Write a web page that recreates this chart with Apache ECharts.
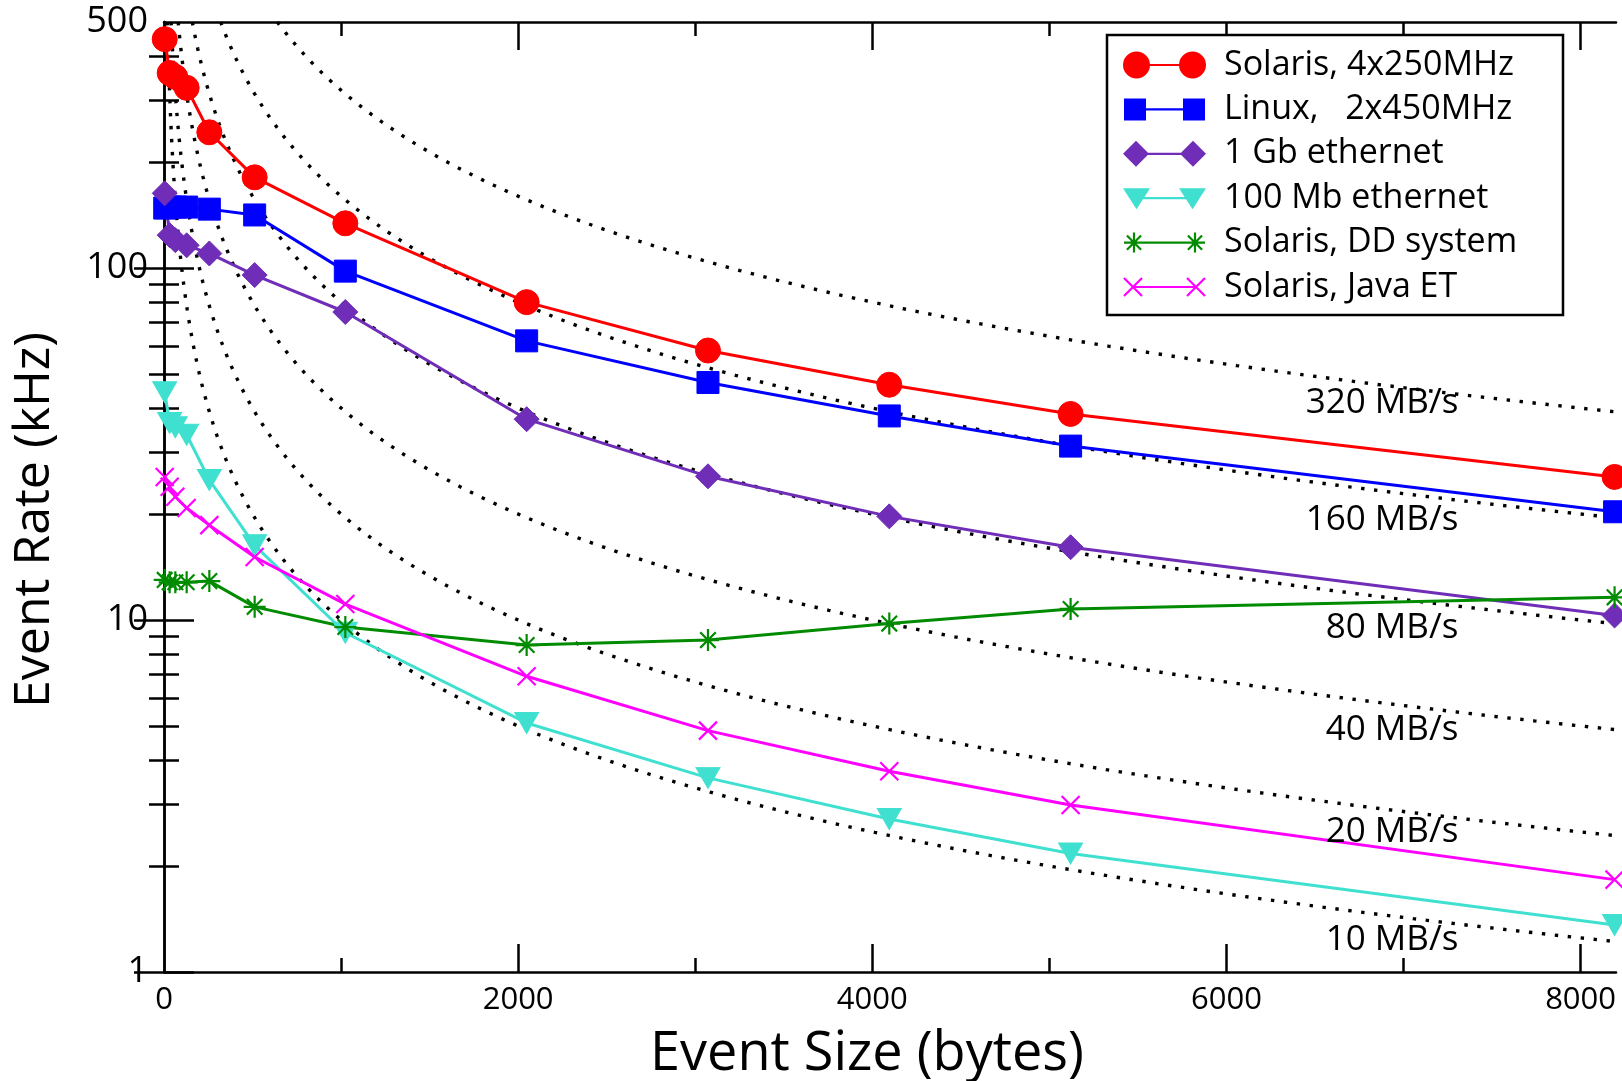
<!DOCTYPE html>
<html>
<head>
<meta charset="utf-8">
<style>
html, body { margin: 0; padding: 0; background: #fff; }
#chart { width: 1622px; height: 1081px; }
</style>
<script src="https://cdn.jsdelivr.net/npm/echarts@6/dist/echarts.min.js"></script>
</head>
<body>
<div id="chart"></div>
<script>
// event sizes (bytes)
const sizes = [4, 32, 64, 128, 256, 512, 1024, 2048, 3072, 4096, 5120, 8192]
// event rates (kHz)
const solaris4 = [447, 358, 349, 325, 243, 181, 134, 80, 58.3, 46.6, 38.5, 25.5]
const linux2 = [148, 149, 149, 149, 147, 141.5, 98, 62.1, 47.3, 38.0, 31.2, 20.3]
const gbEthernet = [163, 124, 120, 116, 110, 95.5, 75, 37.2, 25.6, 19.7, 16.1, 10.3]
const mbEthernet = [44.4, 36.3, 35.3, 33.6, 25, 16.3, 9.2, 5.1, 3.56, 2.72, 2.17, 1.36]
const ddSystem = [13.0, 12.8, 12.8, 12.8, 12.9, 10.9, 9.55, 8.49, 8.77, 9.77, 10.75, 11.6]
const javaET = [25.5, 23.9, 22.4, 20.8, 18.6, 15.1, 11.1, 6.92, 4.85, 3.72, 2.98, 1.83]
// constant bandwidth guides (MB/s)
const bandwidths = [320, 160, 80, 40, 20, 10]
const bandwidthLabels = ['320 MB/s', '160 MB/s', '80 MB/s', '40 MB/s', '20 MB/s', '10 MB/s']
// ticks
const xLabels = [0, 2000, 4000, 6000, 8000]
const xMajorTicks = [2000, 4000, 6000, 8000]
const xMinorTicks = [1000, 3000, 5000, 7000]
const yLabels = [1, 10, 100, 500]
const yMajorTicks = [1, 10, 100]
const yMinorTicks = [2, 3, 4, 5, 6, 7, 8, 9, 20, 30, 40, 50, 60, 70, 80, 90, 200, 300, 400]

const font = 'Open Sans'
const black = '#000'
const X_MAX = 8200

// where the guide labels sit (data coords)
const guideLabelX = 7310
const guideLabelY = [41.4, 19.2, 9.5, 4.87, 2.5, 1.23]

function guideCurve (bw) {
  // rate (kHz) = bandwidth (MB/s) * 1000 / size (bytes), starting where it hits 500 kHz
  const pts = []
  const x0 = bw * 2
  const n = 160
  for (let i = 0; i <= n; i++) {
    const x = x0 * Math.pow(X_MAX / x0, i / n)
    pts.push([x, bw * 1000 / x])
  }
  return pts
}

// legend icon helpers (box 83 x 28), all shapes clockwise so fills never cancel
function circleP (cx, cy, r) {
  return `M${cx - r},${cy} A${r},${r} 0 1 1 ${cx + r},${cy} A${r},${r} 0 1 1 ${cx - r},${cy} Z `
}
function polyP (pts) {
  let a = 0
  for (let i = 0; i < pts.length; i++) {
    const p = pts[i]; const q = pts[(i + 1) % pts.length]
    a += p[0] * q[1] - q[0] * p[1]
  }
  if (a < 0) pts = pts.slice().reverse()
  return 'M' + pts.map(p => p[0].toFixed(2) + ',' + p[1].toFixed(2)).join(' L') + ' Z '
}
function rectP (x1, y1, x2, y2) {
  return polyP([[x1, y1], [x2, y1], [x2, y2], [x1, y2]])
}
function segP (x1, y1, x2, y2, t) {
  const len = Math.hypot(x2 - x1, y2 - y1)
  const nx = -(y2 - y1) / len * t / 2
  const ny = (x2 - x1) / len * t / 2
  return polyP([[x1 + nx, y1 + ny], [x2 + nx, y2 + ny], [x2 - nx, y2 - ny], [x1 - nx, y1 - ny]])
}
function starP (cx, cy, r, t) {
  const d = r * 0.7071
  return segP(cx, cy - r, cx, cy + r, t) + segP(cx - r, cy, cx + r, cy, t) +
    segP(cx - d, cy - d, cx + d, cy + d, t) + segP(cx - d, cy + d, cx + d, cy - d, t)
}
function crossP (cx, cy, r, t) {
  return segP(cx - r, cy - r, cx + r, cy + r, t) + segP(cx - r, cy + r, cx + r, cy - r, t)
}
const bounds = 'M0,0 M83,28'
function lineP (x1, x2) { return rectP(x1, 12.9, x2, 15.1) }

const legendIcons = [
  circleP(13.5, 14, 13.5) + circleP(69.5, 14, 13.5) + lineP(13, 70),
  rectP(1, 3, 23, 25) + rectP(60, 3, 82, 25) + lineP(12, 71),
  polyP([[0, 14], [13, 1], [26, 14], [13, 27]]) + polyP([[57, 14], [70, 1], [83, 14], [70, 27]]) + lineP(13, 70),
  polyP([[0, 4], [27, 4], [13.5, 25]]) + polyP([[56, 4], [83, 4], [69.5, 25]]) + lineP(13, 70),
  starP(11, 14, 10, 2.2) + starP(72, 14, 10, 2.2) + lineP(11, 72),
  crossP(10, 14, 9, 2.2) + crossP(73, 14, 9, 2.2) + lineP(10, 73)
].map(p => 'path://' + p + bounds)

const seriesDefs = [
  { name: 'Solaris, 4x250MHz', data: solaris4, color: '#ff0000', symbol: 'circle', size: 25 },
  { name: 'Linux,   2x450MHz', data: linux2, color: '#0000ff', symbol: 'rect', size: 22 },
  { name: '1 Gb ethernet', data: gbEthernet, color: '#6f2db8', symbol: 'diamond', size: 25 },
  { name: '100 Mb ethernet', data: mbEthernet, color: '#40e0d0', symbol: 'triangle', size: [24, 21], rotate: 180 },
  { name: 'Solaris, DD system', data: ddSystem, color: '#008b00', symbol: 'path://M0,-10L0,10M-10,0L10,0M-7.07,-7.07L7.07,7.07M-7.07,7.07L7.07,-7.07', size: 22, stroke: 2.2 },
  { name: 'Solaris, Java ET', data: javaET, color: '#ff00ff', symbol: 'path://M-10,-10L10,10M-10,10L10,-10', size: 18, stroke: 2.2 }
]

const series = []
bandwidths.forEach(bw => {
  series.push({
    type: 'line',
    data: guideCurve(bw),
    showSymbol: false,
    silent: true,
    clip: true,
    z: 2,
    lineStyle: { color: black, width: 3.4, type: [3.4, 9.6], cap: 'butt' }
  })
})
seriesDefs.forEach(s => {
  series.push({
    name: s.name,
    type: 'line',
    data: sizes.map((x, i) => [x, s.data[i]]),
    symbol: s.symbol,
    symbolSize: s.size,
    symbolRotate: s.rotate || 0,
    showAllSymbol: true,
    clip: false,
    z: 3,
    lineStyle: { color: s.color, width: 3 },
    itemStyle: { color: s.color, borderColor: s.color, borderWidth: s.stroke || 1 }
  })
})
series.push({
  type: 'scatter',
  symbolSize: 0,
  silent: true,
  z: 4,
  itemStyle: { opacity: 1 },
  data: bandwidthLabels.map((t, i) => ({ name: t, value: [guideLabelX, guideLabelY[i]] })),
  label: {
    show: true,
    position: 'left',
    distance: 0,
    formatter: '{b}',
    fontFamily: font,
    fontSize: 35,
    color: black,
    opacity: 1
  }
})

const line = { show: true, lineStyle: { color: black, width: 2.5 } }
function xAxis (position, ticks, len, extra) {
  return Object.assign({
    type: 'value',
    position,
    min: 0,
    max: X_MAX,
    axisLine: { show: false },
    splitLine: { show: false },
    axisLabel: { show: false },
    axisTick: { show: true, inside: true, length: len, customValues: ticks, lineStyle: { color: black, width: 2.5 } }
  }, extra || {})
}
function yAxis (position, ticks, len, extra) {
  return Object.assign({
    type: 'log',
    logBase: 10,
    position,
    min: 1,
    max: 500,
    axisLine: { show: false },
    splitLine: { show: false },
    minorTick: { show: false },
    axisLabel: { show: false },
    axisTick: { show: true, inside: true, length: len, customValues: ticks, lineStyle: { color: black, width: 2.5 } }
  }, extra || {})
}

const option = {
  animation: false,
  backgroundColor: '#fff',
  grid: { left: 164, right: 6, top: 22, bottom: 109, containLabel: false, outerBoundsMode: 'none' },
  xAxis: [
    xAxis('bottom', xMajorTicks, 28, {
      axisLine: line,
      name: 'Event Size (bytes)',
      nameLocation: 'middle',
      nameGap: 56,
      nameTextStyle: { fontFamily: font, fontSize: 54, color: black, padding: [0, 46, 0, 0] },
      axisLabel: { show: true, customValues: xLabels, margin: 13, fontFamily: font, fontSize: 31, color: black, formatter: v => String(v) }
    }),
    xAxis('bottom', xMinorTicks, 14),
    xAxis('top', xMajorTicks, 28, { axisLine: line }),
    xAxis('top', xMinorTicks, 14)
  ],
  yAxis: [
    yAxis('left', yMajorTicks, 30, {
      axisLine: line,
      name: 'Event Rate (kHz)',
      nameLocation: 'middle',
      nameGap: 104,
      nameTextStyle: { fontFamily: font, fontSize: 50, color: black, padding: [0, 46, 0, 0] },
      axisLabel: { show: true, customValues: yLabels, margin: 16, fontFamily: font, fontSize: 36, color: black, formatter: v => String(v) }
    }),
    yAxis('left', yMinorTicks, 15),
    yAxis('right', yMajorTicks, 30, { axisLine: line }),
    yAxis('right', yMinorTicks, 15)
  ],
  legend: {
    orient: 'vertical',
    left: 1123,
    top: 48,
    padding: 0,
    itemWidth: 83,
    itemHeight: 28,
    itemGap: 10.4,
    selectedMode: false,
    z: 10,
    itemStyle: { borderWidth: 0 },
    textStyle: { fontFamily: font, fontSize: 34, lineHeight: 34, color: black, padding: [0, 0, 0, 13] },
    data: seriesDefs.map((s, i) => ({ name: s.name, icon: legendIcons[i] }))
  },
  graphic: [{
    type: 'rect',
    z: 5,
    shape: { x: 1107, y: 35, width: 456, height: 280 },
    style: { fill: '#fff', stroke: black, lineWidth: 2.5 }
  }],
  series
}

const myChart = echarts.init(document.getElementById('chart'))
myChart.setOption(option)
</script>
</body>
</html>
